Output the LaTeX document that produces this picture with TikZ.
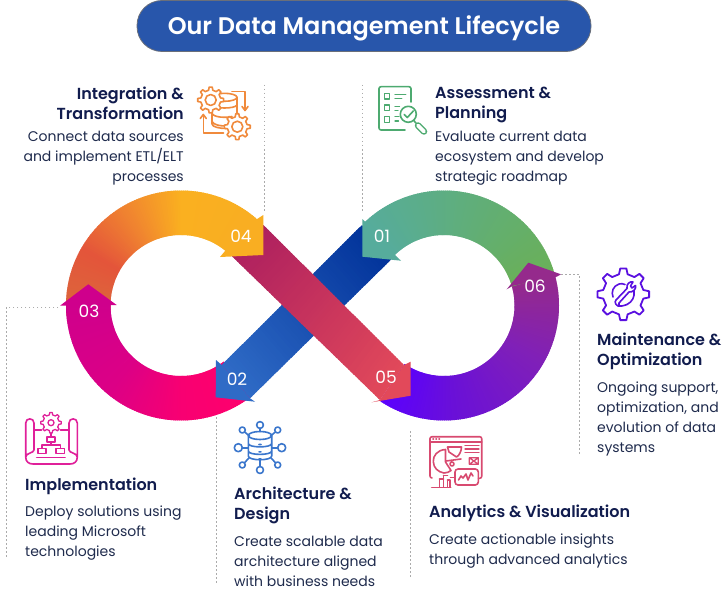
\documentclass[tikz,border=0pt]{standalone}
\usepackage{fontspec}
\usetikzlibrary{calc}
\setmainfont{Poppins}
\newfontfamily\popsemi{Poppins SemiBold}
\definecolor{navy}{HTML}{111C4E}
\definecolor{bodytxt}{HTML}{1F2B4D}
\definecolor{pill}{HTML}{2856AB}
\definecolor{pillb}{HTML}{6A6F7A}
\definecolor{lead}{HTML}{ABABAB}
\definecolor{orangeA}{HTML}{DB683C}
\definecolor{orangeB}{HTML}{E4553A}
\definecolor{orangeC}{HTML}{F08430}
\definecolor{orangeD}{HTML}{FAB020}
\definecolor{orangeE}{HTML}{F9AE22}
\definecolor{pinkA}{HTML}{CF008C}
\definecolor{pinkB}{HTML}{DC0086}
\definecolor{pinkC}{HTML}{F80072}
\definecolor{pinkD}{HTML}{FF006C}
\definecolor{greenA}{HTML}{6AB058}
\definecolor{greenB}{HTML}{56AC9C}
\definecolor{violetA}{HTML}{5A00FF}
\definecolor{violetB}{HTML}{6A10D8}
\definecolor{violetC}{HTML}{8020B8}
\definecolor{violetD}{HTML}{952A8C}
\definecolor{blueA}{HTML}{02339A}
\definecolor{blueB}{HTML}{2F6BC6}
\definecolor{redA}{HTML}{AE205F}
\definecolor{redB}{HTML}{E2495A}
\definecolor{icoOrange}{HTML}{F08A3C}
\definecolor{icoGreen}{HTML}{4DAA70}
\definecolor{icoViolet}{HTML}{5A10E0}
\definecolor{icoPink}{HTML}{E0209A}
\definecolor{icoBlue}{HTML}{3A76CC}
\definecolor{icoRose}{HTML}{D84A70}
\newcommand\ringarc[6]{%
  \pgfmathtruncatemacro\nseg{abs(#4-#3)}%
  \foreach \ii in {1,...,\nseg}{%
    \pgfmathsetmacro\aa{#3+(#4-#3)*(\ii-1)/\nseg}%
    \pgfmathsetmacro\bb{#3+(#4-#3)*(\ii+0.5)/\nseg}%
    \pgfmathtruncatemacro\pct{100*(\ii-0.5)/\nseg}%
    \colorlet{segc}{#6!\pct!#5}%
    \fill[segc] ({#1+115*cos(\aa)},{#2-115*sin(\aa)}) -- ({#1+115*cos(\bb)},{#2-115*sin(\bb)})
      -- ({#1+70.5*cos(\bb)},{#2-70.5*sin(\bb)}) -- ({#1+70.5*cos(\aa)},{#2-70.5*sin(\aa)}) -- cycle;
  }%
}
\newcommand\bandrun[6]{% corners P1 P2 Q1 Q2 colors
  \foreach \ii in {1,...,60}{%
    \pgfmathsetmacro\ta{(\ii-1)/60}%
    \pgfmathsetmacro\tb{min(1,(\ii+0.5)/60)}%
    \pgfmathtruncatemacro\pct{100*(\ii-0.5)/60}%
    \colorlet{segc}{#6!\pct!#5}%
    \fill[segc] ($#1!\ta!#3$) -- ($#1!\tb!#3$) -- ($#2!\tb!#4$) -- ($#2!\ta!#4$) -- cycle;
  }%
}
\newcommand\gearpath[7]{% cx cy Ro Ri n rot style
  \draw[#7] \foreach \kk in {1,...,#5}{%
    \ifnum\kk=1 ({#1+#3*cos(#6+\kk*360/#5-0.15*360/#5)},{#2+#3*sin(#6+\kk*360/#5-0.15*360/#5)})\else
    -- ({#1+#3*cos(#6+\kk*360/#5-0.15*360/#5)},{#2+#3*sin(#6+\kk*360/#5-0.15*360/#5)})\fi
    -- ({#1+#3*cos(#6+\kk*360/#5+0.15*360/#5)},{#2+#3*sin(#6+\kk*360/#5+0.15*360/#5)})
    -- ({#1+#4*cos(#6+\kk*360/#5+0.27*360/#5)},{#2+#4*sin(#6+\kk*360/#5+0.27*360/#5)})
    -- ({#1+#4*cos(#6+\kk*360/#5+0.73*360/#5)},{#2+#4*sin(#6+\kk*360/#5+0.73*360/#5)})
  } -- cycle;
}
\tikzset{
  x=1pt,y=-1pt,
  headtxt/.style={font=\popsemi\fontsize{16}{20}\selectfont,text=navy,inner sep=0pt,align=left},
  bodyblock/.style={font=\fontsize{14}{20}\selectfont,text=bodytxt,inner sep=0pt,align=left},
  numtxt/.style={font=\fontsize{17}{20}\selectfont,text=white,inner sep=0pt},
  leader/.style={draw=lead,line width=1pt,dash pattern=on 1.5pt off 2.5pt},
  ico/.style={line width=#1,line cap=round,line join=round},
  ico/.default=1.6pt
}
\begin{document}
\begin{tikzpicture}
\useasboundingbox[fill=white] (0,0) rectangle (728,591);

% title
\node[fill=pill,draw=pillb,line width=0.8pt,rounded corners=25pt,minimum width=454pt,minimum height=51pt,inner sep=0pt,
  font=\popsemi\fontsize{24}{28}\selectfont,text=white] (title) at (364,26) {\raisebox{-8.3pt}[9pt][9pt]{Our Data Management Lifecycle}};

% leaders
\coordinate (l4a) at (264.5,85); \coordinate (l4b) at (264.5,212);
\coordinate (l1a) at (362,85); \coordinate (l1b) at (362,213);
\coordinate (l6a) at (561,274); \coordinate (l6b) at (579,274); \coordinate (l6c) at (579,456);
\coordinate (l3a) at (58,307); \coordinate (l3b) at (6,307); \coordinate (l3c) at (6,558);
\coordinate (l2a) at (216,401); \coordinate (l2b) at (216,584);
\coordinate (l5a) at (410,431); \coordinate (l5b) at (410,579);
\draw[leader] (l4a) -- (l4b);
\draw[leader] (l1a) -- (l1b);
\draw[leader] (l6a) -- (l6b) -- (l6c);
\draw[leader] (l3a) -- (l3b) -- (l3c);
\draw[leader] (l2a) -- (l2b);
\draw[leader] (l5a) -- (l5b);

% rings
\ringarc{181}{305.5}{185}{150}{orangeA}{orangeB}
\ringarc{181}{305.5}{150}{120}{orangeB}{orangeC}
\ringarc{181}{305.5}{120}{90}{orangeC}{orangeD}
\ringarc{181}{305.5}{90}{49}{orangeD}{orangeE}
\ringarc{181}{305.5}{179}{230}{pinkA}{pinkB}
\ringarc{181}{305.5}{230}{270}{pinkB}{pinkC}
\ringarc{181}{305.5}{270}{307}{pinkC}{pinkD}
\ringarc{444}{305.5}{15}{134}{greenA}{greenB}
\ringarc{444}{305.5}{236}{275}{violetA}{violetB}
\ringarc{444}{305.5}{275}{330}{violetB}{violetC}
\ringarc{444}{305.5}{330}{375}{violetC}{violetD}

% blue band (under), red band (over)
\bandrun{(362,225)}{(391.7,259)}{(221.7,365)}{(250,398.3)}{blueA}{blueB}
\fill[blueB] (221.7,365) -- (216,360) -- (215.7,397.3) -- (255,401.7) -- (250,398.3) -- cycle;
\bandrun{(263.3,225)}{(231.7,256)}{(404,365)}{(380,400)}{redA}{redB}
\fill[redB] (404,365) -- (410.7,361.7) -- (410.7,395.7) -- (371.7,402.3) -- (380,400) -- cycle;

% heads
\fill[greenB] (362.3,219) -- (362.3,256.7) -- (401,260.7) -- (395,255) -- (365,221.7) -- cycle;
\fill[pinkA] (88.3,284.3) -- (116.7,305) -- (60,305.7) -- cycle;
\fill[orangeE] (263.3,215) -- (263.3,255) -- (220,257) -- (225,251) -- (256.7,219.3) -- cycle;
\fill[violetD] (528.3,262.7) -- (561,274.3) -- (556.7,276.7) -- (513,285.7) -- (506.7,289.3) -- cycle;

% numbers
\node[numtxt] (n1) at (382,236) {01};
\node[numtxt] (n2) at (237,379) {02};
\node[numtxt] (n3) at (89,311) {03};
\node[numtxt] (n4) at (241,236) {04};
\node[numtxt] (n5) at (386,377) {05};
\node[numtxt] (n6) at (535,286) {06};

% text
\node[headtxt,align=right,anchor=north east] (h4) at (184,87) {Integration \&\\Transformation};
\node[bodyblock,align=right,anchor=north east] (b4) at (184,131) {Connect data sources\\and implement ETL/ELT\\processes};
\node[headtxt,anchor=north west] (h1) at (435,87) {Assessment \&\\Planning};
\node[bodyblock,anchor=north west] (b1) at (435,131) {Evaluate current data\\ecosystem and develop\\strategic roadmap};
\node[headtxt,anchor=north west] (h6) at (597,333) {Maintenance \&\\Optimization};
\node[bodyblock,anchor=north west] (b6) at (597,382) {Ongoing support,\\optimization, and\\evolution of data\\systems};
\node[headtxt,anchor=north west] (h3) at (25,478) {Implementation};
\node[bodyblock,anchor=north west] (b3) at (25,506) {Deploy solutions using\\leading Microsoft\\technologies};
\node[headtxt,anchor=north west] (h2) at (234,487) {Architecture \&\\Design};
\node[bodyblock,anchor=north west] (b2) at (234,536) {Create scalable data\\architecture aligned\\with business needs};
\node[headtxt,anchor=north west] (h5) at (429,505) {Analytics \& Visualization};
\node[bodyblock,anchor=north west] (b5) at (429,534) {Create actionable insights\\through advanced analytics};

% icon 04
\draw[ico,draw=icoOrange] (224.5,97.3) ellipse (12.5 and 4);
\draw[ico,draw=icoOrange] (212,97.3) -- (212,124) .. controls (212,127) and (220,128.5) .. (226,128.5)
  (237,97.3) -- (237,116)
  (212,105) .. controls (214,109) and (235,109) .. (237,105)
  (212,113.5) .. controls (214,117.5) and (226,118) .. (232,116.5)
  (212,121.5) .. controls (214,125) and (220,126) .. (226,126);
\gearpath{210.7}{100}{13}{10}{8}{0}{ico,draw=icoOrange,fill=white}
\draw[ico,draw=icoOrange] (210.7,100) circle (5.5);
\gearpath{237.3}{126.7}{13}{10}{8}{0}{ico,draw=icoOrange,fill=white}
\draw[ico,draw=icoOrange] (237.3,126.7) circle (5.5);
\draw[ico,draw=icoOrange] (232,91.7) -- (245,91.7) -- (245,110);
\draw[ico,draw=icoOrange] (242,106.5) -- (245,110.5) -- (248,106.5);
\draw[ico,draw=icoOrange] (223.5,133.3) -- (203.3,133.3) -- (203.3,115);
\draw[ico,draw=icoOrange] (200.3,118.5) -- (203.3,114.5) -- (206.3,118.5);

% icon 01
\draw[ico,draw=icoGreen,rounded corners=2pt] (411,102) -- (411,86.7) -- (379,86.7) -- (379,130) -- (405,130);
\foreach \yy in {93.3,105,116.7}{\draw[ico=1.3pt,draw=icoGreen] (384.3,\yy) rectangle ++(5.5,5.7);}
\draw[ico=1.3pt,draw=icoGreen] (395,94.3) -- (405.7,94.3) (395,98.3) -- (401.7,98.3)
  (395,106.7) -- (399.5,106.7) (395,110.5) -- (398,110.5) (395,116.7) -- (399,116.7) (395,121) -- (398.5,121);
\draw[ico,draw=icoGreen] (408.3,114.3) circle (8);
\draw[ico,draw=icoGreen] (404.3,114.5) -- (407.3,117.5) -- (413.3,111);
\draw[line width=6.5pt,line cap=round,draw=icoGreen] (418,125.5) -- (424,131.5);
\draw[line width=3.6pt,line cap=round,draw=white] (418,125.5) -- (424,131.5);
\draw[ico,draw=icoGreen] (413.8,120.6) -- (416,123);

% icon 06
\gearpath{623.3}{294.3}{26}{20.5}{8}{0}{ico=1.8pt,draw=icoViolet}
\draw[ico=1.6pt,draw=icoViolet] (613,297) .. controls (611,292) and (613,286) .. (619,284)
  .. controls (621,283.5) and (623,283.5) .. (625,284.5)
  (634,291) .. controls (635,297) and (632,302) .. (627,304.5)
  (619,306) .. controls (616,306) and (614,302) .. (616,300) -- (627,288.5) .. controls (626,284) and (630,281) .. (633,282)
  -- (630.5,286) -- (632,288) -- (635.5,285.5) .. controls (636.5,289) and (633,292.5) .. (629,292) -- (619,303) -- cycle;
\draw[ico=1.6pt,draw=icoViolet] (618,306) .. controls (620,306.5) and (623,306) .. (627,304.5);

% icon 03
\gearpath{51}{422.7}{10.3}{8}{8}{0}{ico=1.3pt,draw=icoPink}
\draw[ico=1.3pt,draw=icoPink] (51,422.7) circle (3);
\draw[ico,draw=icoPink] (25.7,457) -- (25.7,423) .. controls (25.7,417.5) and (34,417.5) .. (34,423) -- (34,450)
  .. controls (34,453) and (25.7,453) .. (25.7,457) .. controls (25.7,462) and (29,464) .. (33,464)
  -- (70,464) .. controls (74,464) and (77.3,462) .. (77.3,457) -- (77.3,423)
  .. controls (77.3,417.5) and (69,417.5) .. (69,423) -- (69,450) .. controls (69,453) and (77.3,453) .. (77.3,457);
\draw[ico,draw=icoPink] (34,430) -- (41.5,430) (60.5,430) -- (69,430) (36.7,457.5) -- (65,457.5)
  (51,433) -- (51,436.7) (51,441.7) -- (51,445) (41.7,448.3) -- (41.7,445) -- (60.3,445) -- (60.3,448.3);
\draw[ico,draw=icoPink] (46.7,436.7) rectangle (55,441.7) (37.7,448.3) rectangle (45.7,453.3) (56,448.3) rectangle (64.3,453.3);

% icon 02
\draw[ico,draw=icoBlue] (260,435.5) ellipse (11.7 and 4);
\draw[ico,draw=icoBlue] (248.3,435.5) -- (248.3,456) .. controls (248.3,461) and (271.7,461) .. (271.7,456) -- (271.7,435.5)
  (248.3,443.5) .. controls (248.3,448) and (271.7,448) .. (271.7,443.5)
  (248.3,451) .. controls (248.3,455.5) and (271.7,455.5) .. (271.7,451)
  (259,444.5) -- (261,444.5) (259,451.8) -- (261,451.8) (259,459) -- (261,459);
\foreach \xx/\yy/\rr/\ax/\ay in {260/425/3.4/260/431.5, 242.3/430/3/249.5/436, 277.7/430/3/270.5/436, 238.3/447.7/4/248.3/447.7, 281.7/447.7/4/271.7/447.7, 242.3/465/3/249/458, 277.7/465/3/271/458, 260/470/3.5/260/459.5}{
  \draw[ico,draw=icoBlue] (\xx,\yy) circle (\rr);
  \draw[ico,draw=icoBlue] ($(\xx,\yy)!\rr pt!(\ax,\ay)$) -- (\ax,\ay);
}

% icon 05
\draw[ico,draw=icoRose,rounded corners=2pt] (432,478) -- (430,478) -- (430,436.7) -- (481.7,436.7) -- (481.7,478.3) -- (478.5,478.3);
\draw[ico,draw=icoRose] (430,441.7) -- (481.7,441.7) (433,439.2) -- (433.5,439.2) (436,439.2) -- (436.5,439.2) (439,439.2) -- (439.5,439.2);
\draw[ico,draw=icoRose] (445.5,449.5) .. controls (437,450) and (433,456) .. (433.3,461.5) .. controls (433.5,468) and (438,472) .. (444,473)
  .. controls (447,473) and (449,472) .. (451,470.5) -- (445.5,462) -- cycle;
\draw[ico,draw=icoRose] (447.5,447) -- (461.5,447) .. controls (461.5,451) and (459,456) .. (456.5,457) -- (449,452) -- cycle
  (446,461) -- (461,459) (452,464) circle (2);
\draw[ico=1.3pt,draw=icoRose] (465,445.7) -- (479,445.7) (465,449) -- (479,449) (465,452.3) -- (479,452.3);
\draw[ico=1.3pt,draw=icoRose] (469.3,457.7) rectangle (478.3,464.3) (469.3,457.7) -- (478.3,464.3) (478.3,457.7) -- (469.3,464.3);
\draw[ico,draw=icoRose,rounded corners=3pt] (455,469) rectangle (478.3,485);
\draw[ico,draw=icoRose] (458.5,480) -- (461,476) -- (463,478) -- (466,474) -- (468,480) -- (471,473) -- (473,476);
\draw[ico,draw=icoRose] (431.7,487.3) -- (450.7,487.3) (439.5,487) -- (439.5,479) (443.5,487) -- (443.5,475.5) (447.5,487) -- (447.5,480) (450.5,477.5) -- (455,477.5)
  (439.5,479) -- (443.5,479) (443.5,475.5) -- (447.5,475.5) (447.5,480) -- (450,480) (450,480) -- (450,487);
\end{tikzpicture}
\end{document}
